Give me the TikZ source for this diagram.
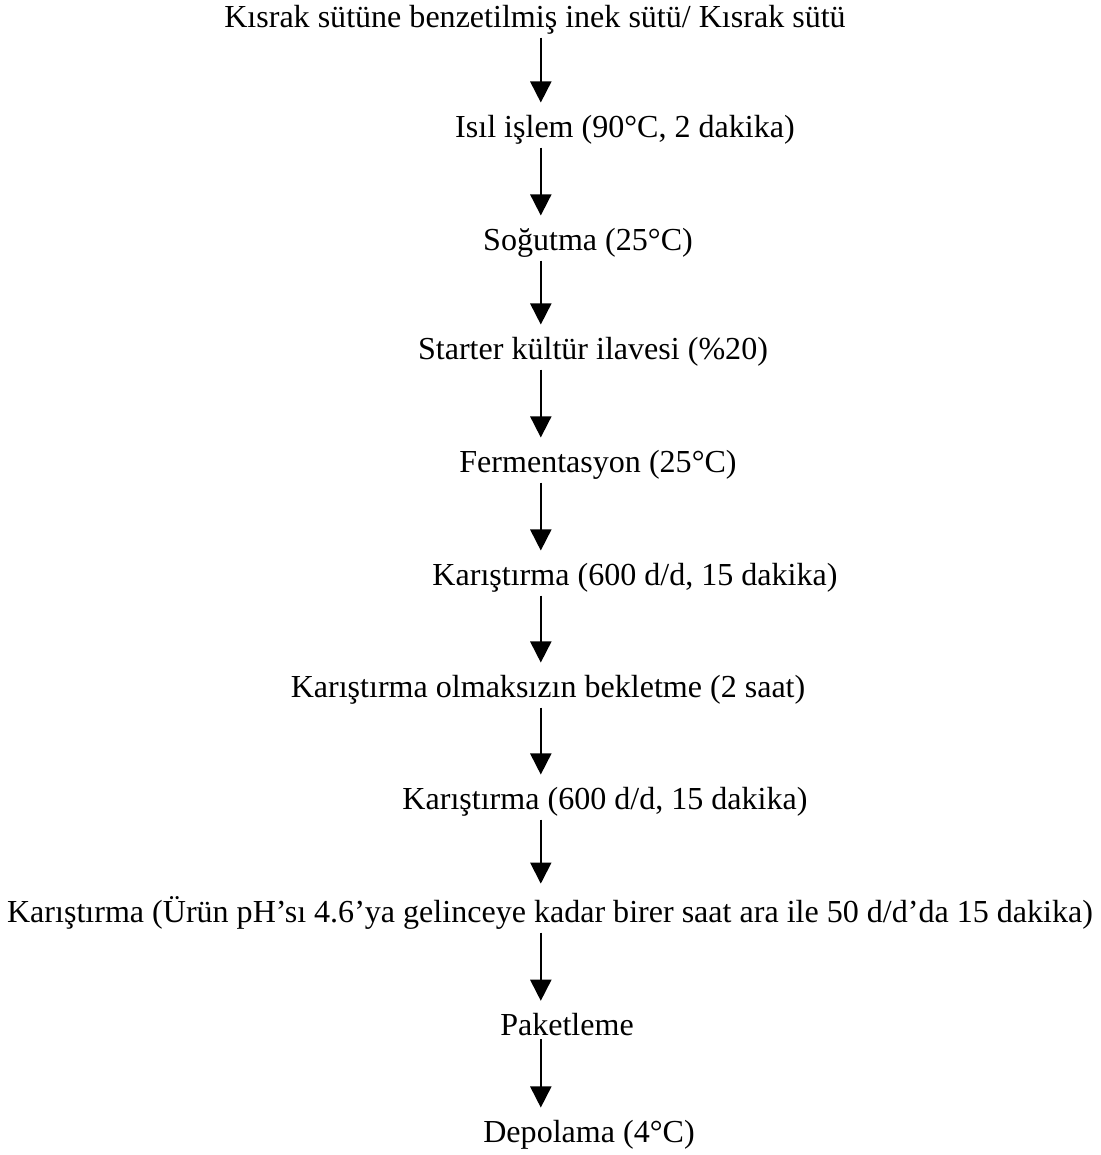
\documentclass[tikz,border=0pt]{standalone}
\usepackage{fontspec}
\setmainfont{Liberation Serif}
\usetikzlibrary{arrows.meta, positioning, calc}

\tikzset{
  stepbox/.style={inner sep=0pt, font=\fontsize{22.8}{26}\selectfont},
  flow/.style={-{Triangle[length=15pt, width=15pt]}, line width=1.3pt, shorten <=2pt, shorten >=9pt}
}

\begin{document}
\begin{tikzpicture}
\useasboundingbox (0,0) rectangle (27.5,-28.875);
% process steps
\coordinate (ax) at (13.52,0);
\foreach \n/\x/\y/\t in {
  1/535/20/{Kısrak sütüne benzetilmiş inek sütü/ Kısrak sütü},
  2/625/130/{Isıl işlem (90°C, 2 dakika)},
  3/588/243/{Soğutma (25°C)},
  4/593/352/{Starter kültür ilavesi (\%20)},
  5/598/465/{Fermentasyon (25°C)},
  6/635/578/{Karıştırma (600 d/d, 15 dakika)},
  7/548/690/{Karıştırma olmaksızın bekletme (2 saat)},
  8/605/802/{Karıştırma (600 d/d, 15 dakika)},
  9/550/913/{Karıştırma (Ürün pH’sı 4.6’ya gelinceye kadar birer saat ara ile 50 d/d’da 15 dakika)},
  10/567/1025/{Paketleme},
  11/589/1135/{Depolama (4°C)}} {
    \node[stepbox] (s\n) at (\x/40,-\y/40) {\t};
}

% arrows
\foreach \i [evaluate=\i as \j using int(\i+1)] in {1,...,10} {
    \draw[flow] (s\i.south -| ax) -- (s\j.north -| ax);
}
\end{tikzpicture}
\end{document}
